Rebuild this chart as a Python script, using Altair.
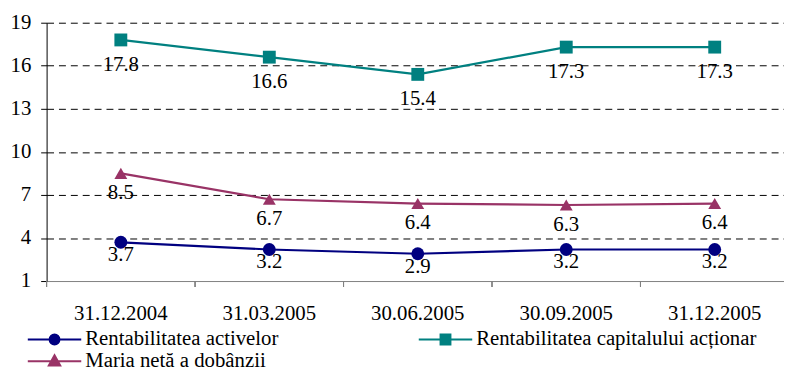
import altair as alt
import pandas as pd

# ---- data ----
dates = ["31.12.2004", "31.03.2005", "30.06.2005", "30.09.2005", "31.12.2005"]
series_names = [
    "Rentabilitatea activelor",
    "Rentabilitatea capitalului acționar",
    "Maria netă a dobânzii",
]
roa = [3.7, 3.2, 2.9, 3.2, 3.2]
roe = [17.8, 16.6, 15.4, 17.3, 17.3]
nim = [8.5, 6.7, 6.4, 6.3, 6.4]
y_ticks = [1, 4, 7, 10, 13, 16, 19]

# ---- styling ----
colors = ["#000080", "#008080", "#993366"]
marker_shapes = ["circle", "square", "triangle-up"]
legend_paths = [
    "M-5.4,0H5.4M1,0A1,1,0,1,1,-1,0A1,1,0,1,1,1,0Z",
    "M-5.4,0H5.4M-1,-1H1V1H-1Z",
    "M-5.4,0H5.4M0,-1.2L1.15,0.85H-1.15Z",
]
label_dy = [13, 25, 20]
FONT = "Liberation Serif, Times New Roman, Times, serif"
FS = 21

rows = []
for name, vals in zip(series_names, [roa, roe, nim]):
    for d, v in zip(dates, vals):
        rows.append({"date": d, "series": name, "value": v})
df = pd.DataFrame(rows)
leg_df = pd.DataFrame({"series": series_names, "i": list(range(len(series_names)))})

x_scale = alt.Scale(type="band", domain=dates, range=[0, 750], paddingInner=0, paddingOuter=0)
y_scale = alt.Scale(domain=[1, 19], nice=False, zero=False)

x_axis = alt.Axis(
    title=None, labelAngle=0, ticks=False, domainColor="#808080", domainWidth=1,
    labelFont=FONT, labelFontSize=FS, labelColor="black", labelPadding=22,
)
x_enc = alt.X("date:N", scale=x_scale, axis=x_axis)
y_enc = alt.Y(
    "value:Q",
    scale=y_scale,
    axis=alt.Axis(
        values=y_ticks, title=None, grid=True, gridColor="black", gridDash=[7, 5],
        gridWidth=1,
        gridOpacity={"condition": {"test": "datum.value === 1", "value": 0}, "value": 1},
        domainColor="black", tickColor="black", tickSize=6, labelPadding=10,
        labelFont=FONT, labelFontSize=FS, labelColor="black",
    ),
)
color_scale = alt.Scale(domain=series_names, range=colors)
color_enc = alt.Color("series:N", scale=color_scale, legend=None)

base = alt.Chart(df)

lines = base.mark_line(strokeWidth=2.2).encode(x=x_enc, y=y_enc, color=color_enc, detail="series:N")

point_layers = []
text_layers = []
for name, shp, dy in zip(series_names, marker_shapes, label_dy):
    sub = base.transform_filter(alt.datum.series == name)
    point_layers.append(
        sub.mark_point(filled=True, size=169, opacity=1, shape=shp).encode(x=x_enc, y=y_enc, color=color_enc)
    )
    text_layers.append(
        sub.mark_text(font=FONT, fontSize=FS, color="black", baseline="middle", dy=dy)
        .encode(x=x_enc, y=y_enc, text=alt.Text("value:Q", format=".1f"))
    )

ticks = base.mark_rule(color="#808080", strokeWidth=1).encode(
    x=alt.X("date:N", scale=x_scale, bandPosition=0, axis=x_axis),
    y=alt.value(261), y2=alt.value(267),
)

main = alt.layer(ticks, lines, *point_layers, *text_layers)

# ---- legend (two columns, built from the series list) ----
leg_base = alt.Chart(leg_df).transform_calculate(col="datum.i % 2", row="floor(datum.i / 2)")
leg_x = alt.X("col:Q", scale=alt.Scale(domain=[0, 1], range=[8, 403]), axis=None)
leg_y = alt.Y("row:Q", scale=alt.Scale(domain=[0, 1], range=[320, 342]), axis=None)
leg_sym = leg_base.mark_point(filled=True, size=100, strokeWidth=2, opacity=1).encode(
    x=leg_x, y=leg_y,
    shape=alt.Shape("series:N", scale=alt.Scale(domain=series_names, range=legend_paths), legend=None),
    fill=alt.Fill("series:N", scale=color_scale, legend=None),
    stroke=alt.Stroke("series:N", scale=color_scale, legend=None),
)
leg_txt = leg_base.mark_text(font=FONT, fontSize=FS, color="black", align="left", baseline="middle", dx=31).encode(
    x=leg_x, y=leg_y, text="series:N"
)
legend = alt.layer(leg_sym, leg_txt)

chart = (
    alt.layer(main, legend)
    .resolve_scale(x="independent", y="independent")
    .properties(
        width=745, height=261,
        autosize=alt.AutoSizeParams(type="none"),
        padding={"left": 39, "top": 13, "right": 0, "bottom": 88},
    )
    .configure_view(stroke=None)
)

chart.save("out.html", embed_options={"renderer": "svg", "actions": False})
